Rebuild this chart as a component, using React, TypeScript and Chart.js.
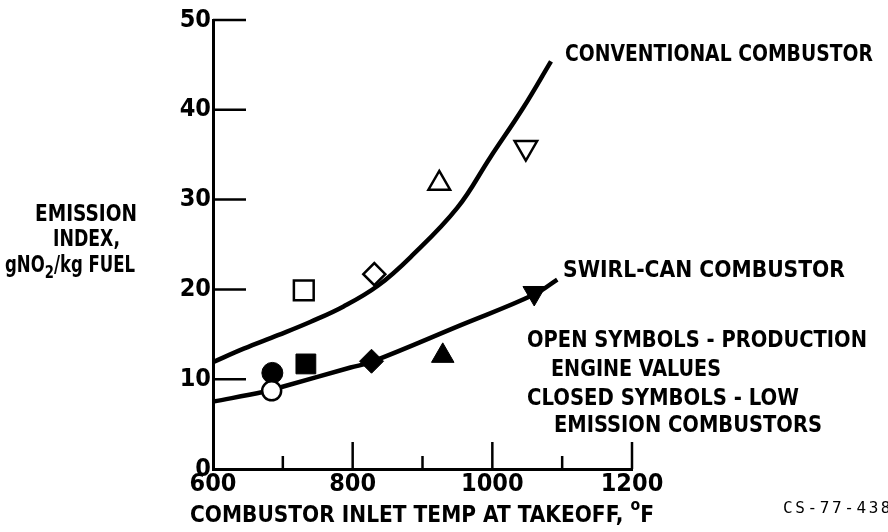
import React, { useEffect, useRef } from "react";
import { Chart, registerables } from "chart.js";
Chart.register(...registerables);

// ---- data ----
const convTemp = [600, 644, 693, 740, 787, 836, 883, 950, 997, 1044, 1084];
const convEI = [11.9, 13.4, 14.9, 16.4, 18.1, 20.4, 23.6, 29.1, 34.7, 40.2, 45.4];
const swirlTemp = [600, 673, 697, 797, 826, 954, 1059, 1093];
const swirlEI = [7.5, 8.6, 9.1, 11.3, 11.9, 16.0, 19.4, 21.1];
const openTemp = [684, 730, 831, 924, 1048];
const openEI = [8.7, 19.9, 21.7, 31.8, 35.8];
const closedTemp = [685, 733, 827, 929, 1060];
const closedEI = [10.7, 11.7, 12.0, 12.6, 19.6];
const yMajorTicks = [10, 20, 30, 40, 50];
const xMajorTicks = [800, 1000, 1200];
const xMinorTicks = [700, 900, 1100];

// ---- styles ----
const symbolStyles = ["circle", "rect", "rectRot", "triangle", "triangle"];
const symbolRotation = [0, 0, 0, 0, 180];
const openRadius = [9.5, 14, 11, 12.5, 13];
const closedRadius = [10.5, 14, 12, 13, 13];

const FAM = '"DejaVu Sans Condensed", "DejaVu Sans", sans-serif';
const MONO = '"DejaVu Sans Mono", monospace';

function fitText(ctx: CanvasRenderingContext2D, s: string, x: number, y: number, w: number, size = 23) {
  ctx.font = `bold ${size}px ${FAM}`;
  ctx.textAlign = "left";
  const nat = ctx.measureText(s).width;
  ctx.save();
  ctx.translate(x, y);
  ctx.scale(w / nat, 1);
  ctx.fillText(s, 0, 0);
  ctx.restore();
}

// draws [text, sizeRatio, dy] parts scaled to a total width
function fitParts(ctx: CanvasRenderingContext2D, parts: [string, number, number][], x: number, y: number, w: number, size = 23) {
  ctx.textAlign = "left";
  const widths = parts.map(([s, r]) => {
    ctx.font = `bold ${size * r}px ${FAM}`;
    return ctx.measureText(s).width;
  });
  const nat = widths.reduce((a, b) => a + b, 0);
  ctx.save();
  ctx.translate(x, y);
  ctx.scale(w / nat, 1);
  let cx = 0;
  parts.forEach(([s, r, dy], i) => {
    ctx.font = `bold ${size * r}px ${FAM}`;
    ctx.fillText(s, cx, dy);
    cx += widths[i];
  });
  ctx.restore();
}

const annotPlugin = {
  id: "annot",
  afterDraw(chart: any) {
    const ctx: CanvasRenderingContext2D = chart.ctx;
    const { left, bottom } = chart.chartArea;
    const xs = chart.scales.x;
    const ys = chart.scales.y;
    ctx.save();
    ctx.strokeStyle = "#000";
    ctx.lineWidth = 2.5;
    for (const v of yMajorTicks) {
      const py = ys.getPixelForValue(v);
      ctx.beginPath();
      ctx.moveTo(left, py);
      ctx.lineTo(left + 33, py);
      ctx.stroke();
    }
    for (const v of xMajorTicks) {
      const px = xs.getPixelForValue(v);
      ctx.beginPath();
      ctx.moveTo(px, bottom);
      ctx.lineTo(px, bottom - 27);
      ctx.stroke();
    }
    for (const v of xMinorTicks) {
      const px = xs.getPixelForValue(v);
      ctx.beginPath();
      ctx.moveTo(px, bottom);
      ctx.lineTo(px, bottom - 13);
      ctx.stroke();
    }

    ctx.fillStyle = "#000";
    ctx.textBaseline = "middle";
    fitText(ctx, "CONVENTIONAL COMBUSTOR", 565, 55, 308);
    fitText(ctx, "SWIRL-CAN COMBUSTOR", 563, 271, 282);
    fitText(ctx, "OPEN SYMBOLS - PRODUCTION", 527, 341, 340);
    fitText(ctx, "ENGINE VALUES", 551, 370, 170);
    fitText(ctx, "CLOSED SYMBOLS - LOW", 527, 399, 272);
    fitText(ctx, "EMISSION COMBUSTORS", 554, 426, 268);

    // x axis title with superscript degree
    fitParts(ctx, [["COMBUSTOR INLET TEMP AT TAKEOFF, ", 1, 0], ["o", 0.7, -10], ["F", 1, 0]], 190, 516, 464);

    // y axis title
    fitText(ctx, "EMISSION", 35, 215, 102);
    fitText(ctx, "INDEX,", 53, 240, 67);
    fitParts(ctx, [["gNO", 1, 0], ["2", 0.8, 7], ["/kg FUEL", 1, 0]], 5, 266, 130);

    // figure id
    ctx.font = `16px ${MONO}`;
    (ctx as any).letterSpacing = "2.6px";
    ctx.fillText("CS-77-438", 783, 509);
    (ctx as any).letterSpacing = "0px";
    ctx.restore();
  },
};

export default function App() {
  const ref = useRef<HTMLCanvasElement>(null);
  useEffect(() => {
    if (!ref.current) return;
    const tickFont = { family: FAM, size: 25, weight: "bold" as const };
    const chart = new Chart(ref.current, {
      type: "scatter",
      data: {
        datasets: [
          {
            type: "scatter",
            label: "Open symbols - production engine values",
            data: openTemp.map((x, i) => ({ x, y: openEI[i] })),
            pointStyle: symbolStyles as any,
            rotation: symbolRotation,
            pointRadius: openRadius,
            backgroundColor: "#fff",
            borderColor: "#000",
            borderWidth: 2.5,
            order: 0,
          },
          {
            type: "scatter",
            label: "Closed symbols - low emission combustors",
            data: closedTemp.map((x, i) => ({ x, y: closedEI[i] })),
            pointStyle: symbolStyles as any,
            rotation: symbolRotation,
            pointRadius: closedRadius,
            backgroundColor: "#000",
            borderColor: "#000",
            borderWidth: 1,
            order: 0,
          },
          {
            type: "line",
            label: "Conventional combustor",
            data: convTemp.map((x, i) => ({ x, y: convEI[i] })),
            borderColor: "#000",
            borderWidth: 4.5,
            pointRadius: 0,
            tension: 0.4,
            fill: false,
            order: 1,
          },
          {
            type: "line",
            label: "Swirl-can combustor",
            data: swirlTemp.map((x, i) => ({ x, y: swirlEI[i] })),
            borderColor: "#000",
            borderWidth: 4.5,
            pointRadius: 0,
            tension: 0.4,
            fill: false,
            order: 1,
          },
        ],
      },
      options: {
        responsive: false,
        animation: false,
        layout: { padding: { left: 0, top: 20, right: 256, bottom: 0 } },
        plugins: { legend: { display: false }, tooltip: { enabled: false } },
        scales: {
          x: {
            type: "linear",
            min: 600,
            max: 1200,
            grid: { display: false, drawTicks: false },
            border: { display: true, color: "#000", width: 3 },
            ticks: { stepSize: 200, color: "#000", padding: 0, font: tickFont, callback: (v: any) => String(v) },
            afterFit: (s: any) => { s.height = 63; },
          },
          y: {
            min: 0,
            max: 50,
            grid: { display: false, drawTicks: false },
            border: { display: true, color: "#000", width: 3 },
            ticks: { stepSize: 10, color: "#000", padding: 2, font: tickFont, callback: (v: any) => String(v) },
            afterFit: (s: any) => { s.width = 213; },
          },
        },
      },
      plugins: [annotPlugin],
    } as any);
    return () => chart.destroy();
  }, []);
  return (
    <div style={{ position: "fixed", left: 0, top: 0, width: 888, height: 532, background: "#fff" }}>
      <canvas ref={ref} width={888} height={532} style={{ width: 888, height: 532 }} />
    </div>
  );
}
